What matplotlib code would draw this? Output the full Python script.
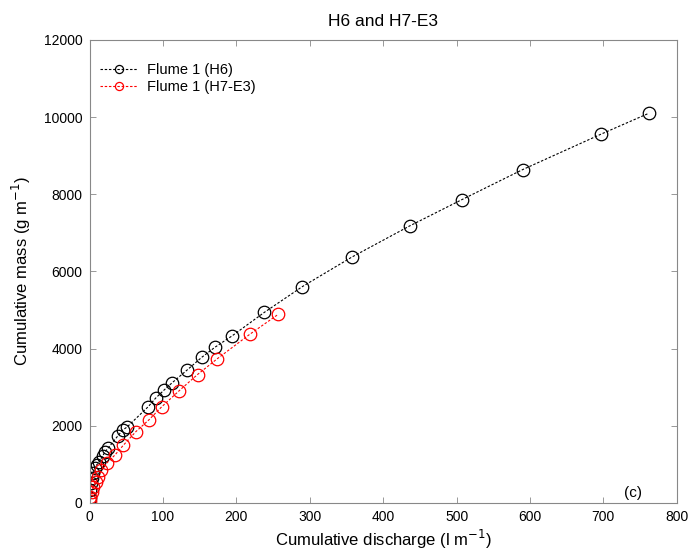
import matplotlib
matplotlib.use("Agg")
import matplotlib.pyplot as plt

plt.rcParams["font.family"] = ["Liberation Sans", "DejaVu Sans"]

# Flume 1 (H6)
h6_q = [0, 0.4, 1.4, 2.7, 5, 7, 9.5, 13, 17.7, 21, 25, 38, 45, 51, 80, 90,
        101, 112, 133, 153, 171, 194, 238, 290, 357, 436, 507, 590, 697, 762]
h6_m = [120, 340, 510, 640, 770, 900, 985, 1070, 1220, 1330, 1420, 1730, 1890,
        1970, 2500, 2720, 2920, 3110, 3450, 3780, 4040, 4330, 4940, 5610, 6370,
        7180, 7860, 8640, 9560, 10100]

# Flume 1 (H7-E3)
h7_q = [0, 0.4, 2.7, 5, 8.6, 11.7, 16, 23, 34.5, 46, 63, 81, 98, 122, 147,
        174, 218, 257]
h7_m = [50, 160, 290, 420, 550, 680, 855, 1030, 1245, 1500, 1850, 2160, 2490,
        2910, 3330, 3740, 4370, 4890]

fig = plt.figure(figsize=(6.93, 5.55), dpi=100)
ax = fig.add_axes([0.1294, 0.0937, 0.8471, 0.8343])

dash = (0, (2.2, 1.6))
ax.plot(h6_q, h6_m, color="k", linestyle=dash, linewidth=0.8, marker="o",
        markersize=9, markerfacecolor="none", markeredgewidth=0.9,
        label="Flume 1 (H6)")
ax.plot(h7_q, h7_m, color="red", linestyle=dash, linewidth=0.8, marker="o",
        markersize=9, markerfacecolor="none", markeredgewidth=0.9,
        label="Flume 1 (H7-E3)")

ax.set_xlim(0, 800)
ax.set_ylim(0, 12000)
ax.set_xticks(range(0, 801, 100))
ax.set_yticks(range(0, 12001, 2000))
ax.tick_params(direction="in", top=True, right=True, length=4, width=0.6,
               color="#888888", labelsize=10, pad=5)
for s in ax.spines.values():
    s.set_color("#888888")
    s.set_linewidth(0.8)

ax.set_xlabel("Cumulative discharge (l m$^{-1}$)", fontsize=12, labelpad=3)
ax.set_ylabel("Cumulative mass (g m$^{-1}$)", fontsize=12, labelpad=8)
ax.set_title("H6 and H7-E3", fontsize=12.5, pad=10)

ax.text(0.925, 0.022, "(c)", transform=ax.transAxes, fontsize=11,
        ha="center", va="center")

ax.legend(loc="upper left", bbox_to_anchor=(0.008, 0.962), frameon=False,
          fontsize=10.5, handlelength=2.6, markerscale=0.65,
          borderaxespad=0.0, labelspacing=0.2, handletextpad=0.6)

fig.savefig("out.png", dpi=100)
